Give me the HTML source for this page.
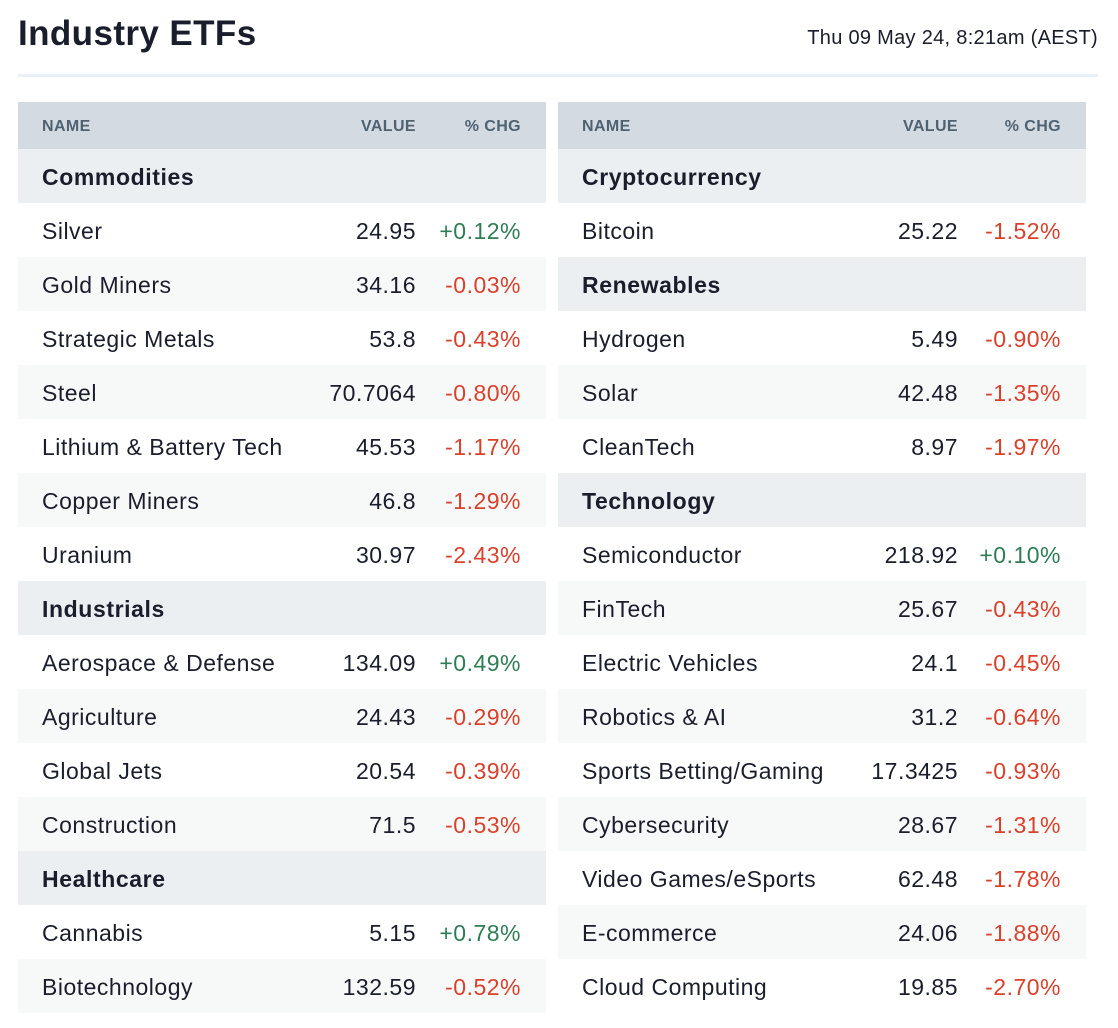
<!DOCTYPE html>
<html><head><meta charset="utf-8">
<style>
body{margin:0;width:1118px;height:1028px;background:#fff;font-family:"Liberation Sans",sans-serif;position:relative;overflow:hidden;color:#1a1d2b}
#title{position:absolute;left:18px;top:14px;font-size:35px;font-weight:bold;color:#1a1d2b;letter-spacing:0.4px}
#date{position:absolute;right:20px;top:27px;font-size:20px;color:#1a1d2b;letter-spacing:0.3px}
#divider{position:absolute;left:18px;top:74px;width:1080px;height:3px;background:#e8eff7}
.tbl{position:absolute;top:102px;width:528px}
.row{position:absolute;left:0;width:528px;height:54px}
.row span{position:absolute;top:15px;font-size:23px;letter-spacing:0.5px;white-space:nowrap}
.row.hdr{height:47px;background:#d3dae1;top:0}
.row.hdr span{top:16px;font-size:16px;font-weight:bold;color:#4f6272;letter-spacing:0.4px}
.cat{background:#eceff1}
.alt{background:#f7f9f9}
.row.cat span{font-weight:bold;letter-spacing:0.6px}
.up{color:#2e7d55}.dn{color:#d9412b}
</style></head><body>
<div id="title">Industry ETFs</div>
<div id="date">Thu 09 May 24, 8:21am (AEST)</div>
<div id="divider"></div>
<div class="tbl" id="left" style="left:18px"></div>
<div class="tbl" id="right" style="left:558px"></div>
<script>
const leftRows=[["Commodities"],["Silver","24.95","+0.12%"],["Gold Miners","34.16","-0.03%"],["Strategic Metals","53.8","-0.43%"],["Steel","70.7064","-0.80%"],["Lithium & Battery Tech","45.53","-1.17%"],["Copper Miners","46.8","-1.29%"],["Uranium","30.97","-2.43%"],["Industrials"],["Aerospace & Defense","134.09","+0.49%"],["Agriculture","24.43","-0.29%"],["Global Jets","20.54","-0.39%"],["Construction","71.5","-0.53%"],["Healthcare"],["Cannabis","5.15","+0.78%"],["Biotechnology","132.59","-0.52%"]];
const rightRows=[["Cryptocurrency"],["Bitcoin","25.22","-1.52%"],["Renewables"],["Hydrogen","5.49","-0.90%"],["Solar","42.48","-1.35%"],["CleanTech","8.97","-1.97%"],["Technology"],["Semiconductor","218.92","+0.10%"],["FinTech","25.67","-0.43%"],["Electric Vehicles","24.1","-0.45%"],["Robotics & AI","31.2","-0.64%"],["Sports Betting/Gaming","17.3425","-0.93%"],["Cybersecurity","28.67","-1.31%"],["Video Games/eSports","62.48","-1.78%"],["E-commerce","24.06","-1.88%"],["Cloud Computing","19.85","-2.70%"]];
function sp(parent,text,style,cls){const s=document.createElement('span');s.textContent=text;s.setAttribute('style',style);if(cls)s.className=cls;parent.appendChild(s);return s;}
function build(id,rows,valRight){
  const t=document.getElementById(id);
  const h=document.createElement('div');h.className='row hdr';
  
  
  sp(h,'NAME','left:24px');sp(h,'VALUE','right:'+valRight+'px');sp(h,'% CHG','right:25px');
  t.appendChild(h);
  let k=0;
  rows.forEach((r,i)=>{
    const d=document.createElement('div');
    d.style.top=(47+i*54)+'px';
    if(r.length===1){d.className='row cat';k=0;
      
      
      sp(d,r[0],'left:24px');
    }else{
      d.className='row'+(k%2?' alt':'');k++;
      
      
      sp(d,r[0],'left:24px');sp(d,r[1],'right:'+valRight+'px');
      sp(d,r[2],'right:25px',r[2][0]==='+'?'up':'dn');
    }
    t.appendChild(d);
  });
}
build('left',leftRows,130);build('right',rightRows,128);
</script>
</body></html>
